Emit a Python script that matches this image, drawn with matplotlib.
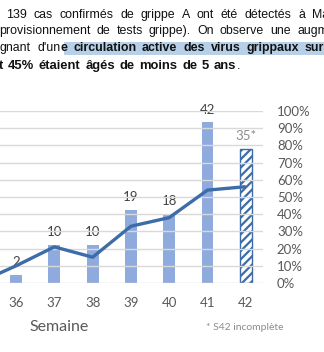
import numpy as np
import matplotlib
matplotlib.use("Agg")
import matplotlib.pyplot as plt

# data
semaines = [35, 36, 37, 38, 39, 40, 41, 42]
cas = [None, 2, 10, 10, 19, 18, 42, 35]
pct_moins5 = [0, 10, 21, 15, 33, 38, 54, 56]
cas_labels = ["", "2", "10", "10", "19", "18", "42", "35*"]
pct_ticks = list(range(0, 101, 10))

W, H = 324, 352
fig = plt.figure(figsize=(W / 100, H / 100), dpi=100)
plt.rcParams["hatch.linewidth"] = 1.6

bar_col = "#8FAADC"
line_col = "#3D6CA8"
grey = "#595959"
font = "Lato"

# chart area (pixels)
x0, x1 = 0, 263
y_top, y_bot = 111, 283
ax = fig.add_axes([x0 / W, 1 - y_bot / H, (x1 - x0) / W, (y_bot - y_top) / H])
ax2 = ax.twinx()

wk = np.array(semaines[1:])
vals = np.array(cas[1:], dtype=float)
ax.bar(wk[:-1], vals[:-1], width=0.31, color=bar_col, zorder=3)
ax.bar(wk[-1:], vals[-1:], width=0.31, color="white", edgecolor=line_col,
       hatch="////", linewidth=1.0, zorder=3)

for w, v, lab in zip(wk, vals, cas_labels[1:]):
    col = "#8C8C8C" if "*" in lab else "#404040"
    ax.annotate(lab, (w, v), xytext=(0, 5), textcoords="offset points",
                ha="center", va="bottom", fontsize=9.5, color=col,
                family=font, zorder=2)

ax.set_xlim(35.58, 42.45)
ax.set_ylim(0, 45)
ax.set_yticks([])
ax.set_xticks(wk)
ax.set_xticklabels([str(w) for w in wk])
ax.tick_params(axis="x", length=0, pad=10, labelsize=9.5, labelcolor=grey)
for lab in ax.get_xticklabels():
    lab.set_family(font)

ax2.plot(semaines, pct_moins5, color=line_col, lw=2.4, zorder=5,
         solid_capstyle="butt")
ax2.set_ylim(0, 100)
ax2.set_yticks(pct_ticks)
ax2.set_yticklabels([f"{p}%" for p in pct_ticks])
ax2.tick_params(axis="y", length=0, pad=10, labelsize=9.5, labelcolor=grey)
for lab in ax2.get_yticklabels():
    lab.set_family(font)
    lab.set_horizontalalignment("left")
ax2.grid(axis="y", color="#D9D9D9", lw=1.0, zorder=0)
ax2.set_axisbelow(True)
for a in (ax, ax2):
    for s in a.spines.values():
        s.set_visible(False)
ax.patch.set_visible(False)

# overlay in pixel coordinates for the text around the chart
ov = fig.add_axes([0, 0, 1, 1], zorder=-1)
ov.set_xlim(0, W)
ov.set_ylim(H, 0)
ov.axis("off")

ov.text(59, 327, "Semaine", ha="center", va="center", fontsize=11.5,
        color=grey, family=font)
ov.text(245, 328, "* S42 incomplète", ha="center", va="center", fontsize=7.5,
        color="#8C8C8C", family=font)

tf = "Liberation Sans"
fs = 8.9
renderer = fig.canvas.get_renderer()


def justify(words, y, xs, xlast, size=fs):
    # words: list of lists of (piece, bold); spread them between xs and xlast
    groups = []
    for word in words:
        pieces = []
        for piece, bold in word:
            t = ov.text(0, y, piece, ha="left", va="center", fontsize=size,
                        family=tf, color="#111111",
                        weight="bold" if bold else "normal")
            pieces.append((t, t.get_window_extent(renderer).width))
        groups.append(pieces)
    widths = [sum(p[1] for p in g) for g in groups]
    gap = (xlast - xs - sum(widths[:-1])) / (len(groups) - 1)
    x = xs
    for g, gw in zip(groups, widths):
        xx = x
        for t, pw in g:
            t.set_x(xx)
            xx += pw
        x += gw + gap


def plain(s):
    return [[(w, False)] for w in s.split()]


def bold(s):
    return [[(w, True)] for w in s.split()]


justify(plain("139 cas confirmés de grippe A ont été détectés à Mayotte"), 15, 6, 312)
justify(plain("provisionnement de tests grippe). On observe une augmentation"), 31, -1, 297)
ov.add_patch(plt.Rectangle((64, 41.5), 270, 13.5, color="#B7D0E8", lw=0))
justify(plain("gnant") + [[("d'un", False), ("e", True)]]
        + bold("circulation active des virus grippaux sur"), 48, 0, 305)
justify(bold("t 45% étaient âgés de moins de 5") + [[("ans", True), (".", False)]],
        66, -1, 214, size=9.4)

fig.savefig("out.png", dpi=100)
